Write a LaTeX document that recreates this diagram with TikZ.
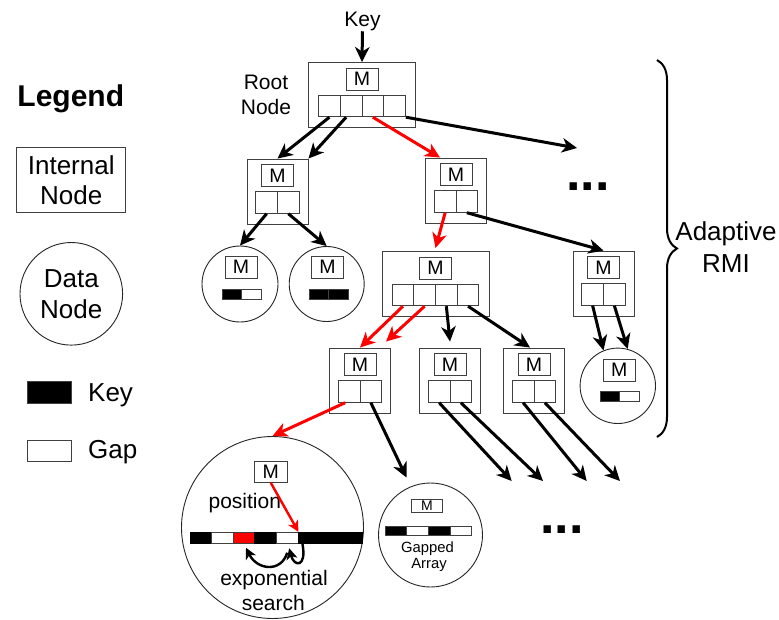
\documentclass[tikz,border=0pt]{standalone}
\usepackage{fontspec}
\setmainfont{Liberation Sans}
\usetikzlibrary{arrows.meta,decorations.pathreplacing}
\newcommand\fsz[2]{\fontsize{#1}{#2}\selectfont}

\tikzset{
  outl/.style={draw=black!75, line width=0.9pt},
  ibox/.style={outl, fill=white, inner sep=0pt},
  mbox/.style={outl, fill=white, inner sep=0pt, minimum width=32pt, minimum height=22pt, font=\fsz{19.5}{20}},
  cell/.style={outl, fill=white, inner sep=0pt, minimum width=21.7pt, minimum height=21.5pt},
  barc/.style={outl, inner sep=0pt, minimum width=19.5pt, minimum height=10.5pt},
  dnode/.style={draw=black!85, line width=0.9pt, circle, inner sep=0pt, fill=white},
  arr/.style={line width=3pt, -{Stealth[length=15pt,width=14.5pt,inset=4.5pt]}},
  hot/.style={arr, draw=red},
  sarr/.style={line width=2.4pt, -{Stealth[length=11pt,width=11pt,inset=3pt]}},
  lbl/.style={font=\fsz{21}{25}, inner sep=0pt},
  leg/.style={font=\fsz{26}{30}, inner sep=0pt},
  dots/.style={font=\fsz{52}{52}\bfseries, inner sep=0pt, anchor=base west},
  twocell/.pic={
    \node[ibox, minimum width=61pt, minimum height=65pt] (-box) at (0,0) {};
    \node[mbox] (-m) at (0,-16) {M};
    \node[cell] (-c1) at (-10.85,11) {};
    \node[cell] (-c2) at (10.85,11) {};
  },
  fourcell/.pic={
    \node[ibox, minimum width=107pt, minimum height=65pt] (-box) at (0,0) {};
    \node[mbox] (-m) at (0,-16) {M};
    \node[cell] (-c1) at (-32.55,11) {};
    \node[cell] (-c2) at (-10.85,11) {};
    \node[cell] (-c3) at (10.85,11) {};
    \node[cell] (-c4) at (32.55,11) {};
  },
}

\begin{document}
\begin{tikzpicture}[x=1pt,y=-1pt]
\useasboundingbox (0,0) rectangle (779,619);

% ---- legend ----
\node[font=\fsz{30}{30}\bfseries, inner sep=0pt, anchor=base] (legtitle) at (70.8,106.7) {Legend};
\node[outl, inner sep=0pt, minimum width=109pt, minimum height=65.4pt, leg, align=center] (leginternal) at (71.2,180) {Internal\\Node};
\node[dnode, minimum size=102.6pt, leg, align=center, font=\fsz{26}{31}] (legdata) at (71.3,293.8) {Data\\Node};
\node[outl, fill=black, inner sep=0pt, minimum width=44pt, minimum height=21.6pt] (legkeybox) at (49.7,392.5) {};
\node[leg, anchor=base west] (legkey) at (88,401.7) {Key};
\node[outl, fill=white, inner sep=0pt, minimum width=44pt, minimum height=21.6pt] (leggapbox) at (49.7,450.8) {};
\node[leg, anchor=base west] (leggap) at (88,458.5) {Gap};

% ---- internal nodes ----
\pic (rt) at (362,95) {fourcell};
\pic (lA) at (277.5,191.5) {twocell};
\pic (lB) at (456,190.5) {twocell};
\pic (lC) at (435.5,284) {fourcell};
\pic (lD) at (603.5,283.5) {twocell};
\pic (A4) at (360,380.5) {twocell};
\pic (B4) at (450,380.5) {twocell};
\pic (C4) at (534,380.5) {twocell};

\node[lbl, anchor=base] (key) at (362.5,26.7) {Key};
\node[lbl, align=center] (rootlbl) at (266,94.5) {Root\\Node};

% ---- small data nodes ----
\node[dnode, minimum size=76pt] (dA) at (240,284) {};
\node[mbox] (dA-m) at (241,267) {M};
\node[barc, fill=black] (dA-k) at (231.8,294.2) {};
\node[barc, fill=white] (dA-g) at (251.3,294.2) {};

\node[dnode, minimum size=75pt] (dB) at (326.7,284) {};
\node[mbox] (dB-m) at (327.5,267) {M};
\node[barc, fill=black] (dB-k1) at (319,294.2) {};
\node[barc, fill=black] (dB-k2) at (338.5,294.2) {};

\node[dnode, minimum size=75.4pt] (dC) at (617.8,385.8) {};
\node[mbox] (dC-m) at (619.2,370) {M};
\node[barc, fill=black] (dC-k) at (609.8,396.3) {};
\node[barc, fill=white] (dC-g) at (629.4,396.3) {};

% ---- expanded data node with exponential search ----
\node[dnode, minimum size=182pt] (big) at (272.5,527.5) {};
\node[mbox, minimum width=33pt, minimum height=21.3pt] (big-m) at (270.8,471.7) {M};
\node[inner sep=0pt, minimum width=172.8pt, minimum height=11pt] (arr) at (276.4,537.8) {};
\foreach \i/\c/\e in {1/black/black,2/white/black!75,3/red/black!75,4/black/black,5/white/black!75,6/black/black,7/black/black,8/black/black}
  \node[line width=0.9pt, draw=\e, fill=\c, inner sep=0pt, minimum width=21.6pt, minimum height=11pt] (arr-\i) at (179.2+21.6*\i,537.8) {};
\node[lbl, anchor=base] (poslbl) at (244.8,508.3) {position};
\node[lbl, anchor=base] (explbl) at (274,585) {exponential};
\node[lbl, anchor=base] (srchlbl) at (273.3,610.8) {search};
\draw[red, sarr] (big-m.south) -- (arr-5.north east);
\draw[sarr] ([xshift=4pt]arr-5.south east) .. controls (307,568) and (294,567) .. ([xshift=2pt,yshift=-4.5pt]arr-5.south);
\draw[sarr] ([xshift=0pt,yshift=-9pt]arr-5.south) .. controls (281,573) and (257,570) .. ([xshift=2pt,yshift=-4pt]arr-3.south);

% ---- gapped array node ----
\node[dnode, minimum size=104pt] (gp) at (430.5,535) {};
\node[mbox, minimum width=30.6pt, minimum height=13.4pt, font=\fsz{14}{14}] (gp-m) at (427,506) {M};
\foreach \i/\c in {1/black,2/white,3/black,4/white}
  \node[outl, fill=\c, inner sep=0pt, minimum width=21.7pt, minimum height=9pt] (gp-\i) at (374.15+21.7*\i,531.2) {};
\node[font=\fsz{14.8}{16}, inner sep=0pt, anchor=base] (gplbl1) at (427.5,552.3) {Gapped};
\node[font=\fsz{14.8}{16}, inner sep=0pt, anchor=base] (gplbl2) at (429,568.3) {Array};

% ---- ellipses ----
\node[dots] (moreA) at (566.2,190) {...};
\node[dots] (moreB) at (540.3,533.3) {...};

% ---- brace ----
\draw[decorate, decoration={brace, amplitude=20pt}, line width=2pt] (657,60) -- (657,437);
\node[leg, align=center, font=\fsz{26}{32}] (armi) at (726,247) {Adaptive\\RMI};

% ---- free arrow ends ----
\coordinate (far1) at (577,148);
\coordinate (far2) at (511.7,481);
\coordinate (far3) at (543,481);
\coordinate (far4) at (586.7,481);
\coordinate (far5) at (620,481);

% ---- connectors ----
\draw[arr] (key.south) -- (rt-box.north);
\draw[arr] (rt-c1.south) -- (lA-box.north);
\draw[arr] ([xshift=-5pt]rt-c2.south) -- (lA-box.north east);
\draw[hot] (rt-c3.south) -- ([xshift=-16pt]lB-box.north);
\draw[arr] (rt-c4.south east) -- (far1);

\draw[arr] (lA-c1.south) -- (dA.north);
\draw[arr] (lA-c2.south) -- (dB.north);
\draw[hot] (lB-c1.south) -- ([yshift=3pt]lC-box.north);
\draw[arr] (lB-c2.south) -- (lD-box.north);

\draw[hot] (lC-c1.south) -- (A4-box.north);
\draw[hot] (lC-c2.south) -- ([xshift=26pt,yshift=6pt]A4-box.north);
\draw[arr] (lC-c3.south) -- ([yshift=6pt]B4-box.north);
\draw[arr] (lC-c4.south) -- ([xshift=-4pt]C4-box.north);
\draw[arr] (lD-c1.south) -- (dC.112);
\draw[arr] (lD-c2.south) -- (dC.75);

\draw[hot] ([xshift=-4pt]A4-c1.south) -- (big.north);
\draw[arr] (A4-c2.south) -- ([xshift=-24pt,yshift=5pt]gp.north);
\draw[arr] (B4-c1.south) -- (far2);
\draw[arr] (B4-c2.south) -- (far3);
\draw[arr] (C4-c1.south) -- (far4);
\draw[arr] (C4-c2.south) -- (far5);
\end{tikzpicture}
\end{document}
